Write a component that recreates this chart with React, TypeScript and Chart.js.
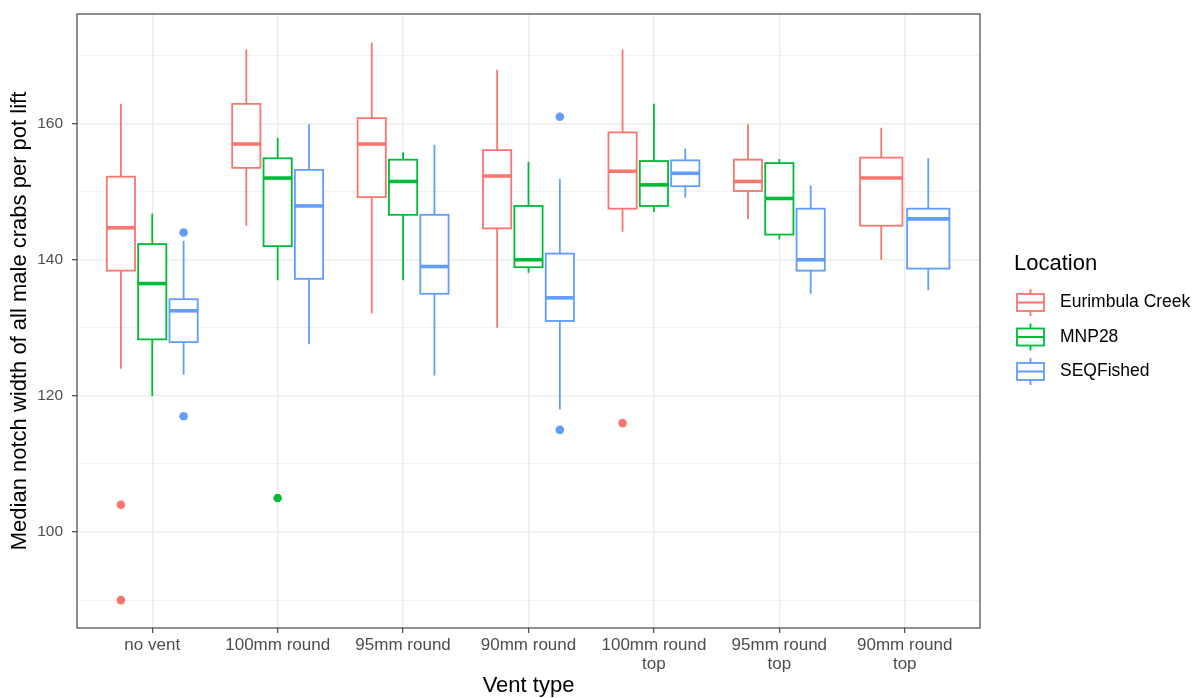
import React, { useEffect, useRef } from 'react';
import { Chart, registerables } from 'chart.js';

Chart.register(...registerables);

const FONT = "'Liberation Sans', Arial, sans-serif";

// Categories (x axis)
const categories: string[][] = [
  ['no vent'],
  ['100mm round'],
  ['95mm round'],
  ['90mm round'],
  ['100mm round', 'top'],
  ['95mm round', 'top'],
  ['90mm round', 'top'],
];

const locations = ['Eurimbula Creek', 'MNP28', 'SEQFished'];
const colors = ['#F8766D', '#00BA38', '#619CFF'];

// Eurimbula Creek: lower whisker, Q1, median, Q3, upper whisker
const eurLow = [124.0, 145.0, 132.1, 130.0, 144.1, 146.0, 140.0];
const eurQ1 = [138.4, 153.5, 149.2, 144.6, 147.5, 150.1, 145.0];
const eurMed = [144.7, 157.0, 157.0, 152.3, 153.0, 151.5, 152.0];
const eurQ3 = [152.2, 162.9, 160.8, 156.1, 158.7, 154.7, 155.0];
const eurHigh = [162.9, 170.9, 171.9, 167.9, 170.9, 159.9, 159.4];

// MNP28
const mnpLow = [120.0, 137.0, 137.0, 138.1, 147.0, 143.0, null];
const mnpQ1 = [128.3, 142.0, 146.6, 138.9, 147.9, 143.7, null];
const mnpMed = [136.5, 152.0, 151.5, 140.0, 151.0, 149.0, null];
const mnpQ3 = [142.3, 154.9, 154.7, 147.9, 154.5, 154.2, null];
const mnpHigh = [146.8, 157.9, 155.8, 154.4, 162.9, 154.8, null];

// SEQFished
const seqLow = [123.1, 127.6, 123.0, 118.0, 149.1, 135.0, 135.5];
const seqQ1 = [127.9, 137.2, 135.0, 131.0, 150.8, 138.4, 138.7];
const seqMed = [132.5, 147.9, 139.0, 134.4, 152.7, 140.0, 146.0];
const seqQ3 = [134.2, 153.2, 146.6, 140.9, 154.6, 147.5, 147.5];
const seqHigh = [142.8, 159.9, 156.9, 151.9, 156.3, 150.9, 154.9];

// Outliers: [category index, value]
const eurOutliers: [number, number][] = [[0, 104], [0, 90], [4, 116]];
const mnpOutliers: [number, number][] = [[1, 105]];
const seqOutliers: [number, number][] = [[0, 144], [0, 117], [3, 161], [3, 115]];

const yTickValues = [90, 100, 110, 120, 130, 140, 150, 160, 170];

const series = [
  { low: eurLow, q1: eurQ1, med: eurMed, q3: eurQ3, high: eurHigh, out: eurOutliers },
  { low: mnpLow, q1: mnpQ1, med: mnpMed, q3: mnpQ3, high: mnpHigh, out: mnpOutliers },
  { low: seqLow, q1: seqQ1, med: seqMed, q3: seqQ3, high: seqHigh, out: seqOutliers },
];

const DODGE = 0.75;

function slot(cat: number, li: number) {
  const present = series.map((s, i) => (s.med[cat] != null ? i : -1)).filter((i) => i >= 0);
  const n = present.length;
  const k = present.indexOf(li);
  const w = DODGE / n;
  return { center: cat - DODGE / 2 + w * (k + 0.5), half: (w * 0.9) / 2 };
}

const boxPlugin = {
  id: 'ggBoxes',
  beforeDatasetsDraw(chart: any) {
    const { ctx, chartArea, scales } = chart;
    const x = scales.x;
    const y = scales.y;
    ctx.save();
    ctx.beginPath();
    ctx.rect(chartArea.left, chartArea.top, chartArea.right - chartArea.left, chartArea.bottom - chartArea.top);
    ctx.clip();
    series.forEach((s, li) => {
      for (let cat = 0; cat < categories.length; cat++) {
        if (s.med[cat] == null) continue;
        const { center, half } = slot(cat, li);
        const xc = x.getPixelForValue(center);
        const xl = x.getPixelForValue(center - half);
        const xr = x.getPixelForValue(center + half);
        const yLow = y.getPixelForValue(s.low[cat]);
        const yQ1 = y.getPixelForValue(s.q1[cat]);
        const yMed = y.getPixelForValue(s.med[cat]);
        const yQ3 = y.getPixelForValue(s.q3[cat]);
        const yHigh = y.getPixelForValue(s.high[cat]);
        ctx.strokeStyle = colors[li];
        ctx.lineWidth = 1.8;
        ctx.lineCap = 'butt';
        ctx.beginPath();
        ctx.moveTo(xc, yHigh);
        ctx.lineTo(xc, yQ3);
        ctx.moveTo(xc, yQ1);
        ctx.lineTo(xc, yLow);
        ctx.stroke();
        ctx.fillStyle = '#FFFFFF';
        ctx.fillRect(xl, yQ3, xr - xl, yQ1 - yQ3);
        ctx.strokeRect(xl, yQ3, xr - xl, yQ1 - yQ3);
        ctx.lineWidth = 3.6;
        ctx.beginPath();
        ctx.moveTo(xl, yMed);
        ctx.lineTo(xr, yMed);
        ctx.stroke();
      }
    });
    ctx.restore();
  },
  afterDraw(chart: any) {
    const { ctx, chartArea } = chart;
    ctx.save();
    ctx.strokeStyle = '#333333';
    ctx.lineWidth = 1.1;
    ctx.strokeRect(chartArea.left, chartArea.top, chartArea.right - chartArea.left, chartArea.bottom - chartArea.top);

    // Legend
    ctx.fillStyle = '#000000';
    ctx.textAlign = 'left';
    ctx.textBaseline = 'middle';
    ctx.font = `22px ${FONT}`;
    ctx.fillText('Location', 1014, 264);
    ctx.font = `17.5px ${FONT}`;
    locations.forEach((name, i) => {
      const cy = 302.5 + i * 34.5;
      const x0 = 1017;
      const x1 = 1044;
      const xc = (x0 + x1) / 2;
      ctx.strokeStyle = colors[i];
      ctx.lineWidth = 1.8;
      ctx.beginPath();
      ctx.moveTo(xc, cy - 13.5);
      ctx.lineTo(xc, cy - 8.5);
      ctx.moveTo(xc, cy + 8.5);
      ctx.lineTo(xc, cy + 13.5);
      ctx.moveTo(x0, cy);
      ctx.lineTo(x1, cy);
      ctx.stroke();
      ctx.strokeRect(x0, cy - 8.5, x1 - x0, 17);
      ctx.fillStyle = '#000000';
      ctx.fillText(name, 1060, cy);
    });
    ctx.restore();
  },
};

export default function App() {
  const ref = useRef<HTMLCanvasElement>(null);
  useEffect(() => {
    const canvas = ref.current;
    if (!canvas) return;
    const chart = new Chart(canvas, {
      type: 'scatter',
      data: {
        datasets: series.map((s, li) => ({
          label: locations[li],
          data: s.out.map(([cat, v]) => ({ x: slot(cat, li).center, y: v })),
          backgroundColor: colors[li],
          borderColor: colors[li],
          pointRadius: 4.3,
          pointBorderWidth: 0,
          pointHoverRadius: 4.3,
        })),
      },
      options: {
        responsive: false,
        animation: false,
        devicePixelRatio: 1,
        layout: { padding: { top: 14, right: 218, left: 0, bottom: 0 } },
        plugins: { legend: { display: false }, tooltip: { enabled: false } },
        scales: {
          x: {
            type: 'linear',
            min: -0.6,
            max: 6.6,
            afterBuildTicks: (s: any) => {
              s.ticks = categories.map((_, i) => ({ value: i }));
            },
            afterFit: (s: any) => {
              s.height = 70;
              s.paddingLeft = 0;
              s.paddingRight = 0;
            },
            ticks: {
              callback: (v: any) => categories[Math.round(Number(v))],
              font: { family: FONT, size: 17, lineHeight: 1.1 },
              color: '#4D4D4D',
              padding: 3,
              maxRotation: 0,
              minRotation: 0,
              autoSkip: false,
            },
            grid: {
              color: '#EBEBEB',
              lineWidth: 1.4,
              tickColor: '#333333',
              tickLength: 5,
              tickWidth: 1.1,
            },
            border: { display: false },
            title: {
              display: true,
              text: 'Vent type',
              color: '#000000',
              font: { family: FONT, size: 22, lineHeight: 1.1 },
              padding: { top: 0, bottom: 0 },
            },
          },
          y: {
            type: 'linear',
            min: 85.9,
            max: 176.1,
            afterBuildTicks: (s: any) => {
              s.ticks = yTickValues.map((v) => ({ value: v }));
            },
            afterFit: (s: any) => {
              s.width = 77;
              s.paddingTop = 0;
              s.paddingBottom = 0;
            },
            ticks: {
              callback: (v: any) => (Number(v) % 20 === 0 ? String(v) : ''),
              font: { family: FONT, size: 15.5 },
              color: '#4D4D4D',
              padding: 9,
            },
            grid: {
              color: '#EBEBEB',
              lineWidth: (c: any) => (c.tick && c.tick.value % 20 === 0 ? 1.4 : 0.7),
              tickColor: (c: any) => (c.tick && c.tick.value % 20 === 0 ? '#333333' : 'rgba(0,0,0,0)'),
              tickLength: 5,
              tickWidth: 1.1,
            },
            border: { display: false },
            title: {
              display: true,
              text: 'Median notch width of all male crabs per pot lift',
              color: '#000000',
              font: { family: FONT, size: 22 },
              padding: { top: 7, bottom: 0 },
            },
          },
        },
      },
      plugins: [boxPlugin],
    } as any);
    return () => chart.destroy();
  }, []);
  return (
    <div style={{ position: 'fixed', left: 0, top: 0, width: 1198, height: 698, background: '#FFFFFF' }}>
      <canvas ref={ref} width={1198} height={698} style={{ display: 'block', width: 1198, height: 698 }} />
    </div>
  );
}
